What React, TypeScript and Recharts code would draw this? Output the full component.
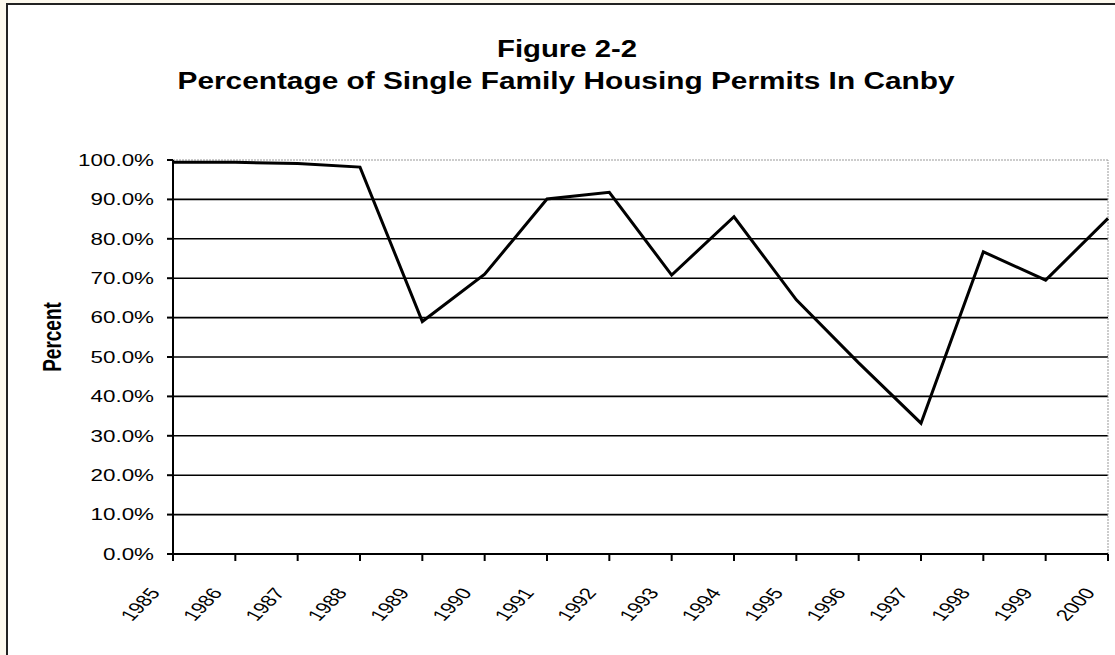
import React from 'react';
import { LineChart, Line, XAxis, YAxis, CartesianGrid, ReferenceLine } from 'recharts';

const years = ['1985', '1986', '1987', '1988', '1989', '1990', '1991', '1992', '1993', '1994', '1995', '1996', '1997', '1998', '1999', '2000'];
const singleFamilyPercent = [99.4, 99.4, 99.1, 98.2, 59.0, 71.0, 90.1, 91.8, 70.8, 85.6, 64.5, 48.5, 33.2, 76.7, 69.5, 85.2];
const yTicks = [0, 10, 20, 30, 40, 50, 60, 70, 80, 90, 100];
const gridValues = [10, 20, 30, 40, 50, 60, 70, 80, 90];
const titleLine1 = 'Figure 2-2';
const titleLine2 = 'Percentage of Single Family Housing Permits In Canby';
const yAxisTitle = 'Percent';

const data = years.map((year, i) => ({ year, pct: singleFamilyPercent[i] }));

const W = 1115;
const H = 655;
const FONT = '"Liberation Sans", Arial, sans-serif';
const SX = 1.4;

const YTick = (props: any) => {
  const { x, y, payload } = props;
  return (
    <text
      x={0}
      y={0}
      dy="0.36em"
      transform={`translate(${x},${y}) scale(${SX},1)`}
      textAnchor="end"
      fontFamily={FONT}
      fontSize={16}
      fill="#000"
    >
      {`${Number(payload.value).toFixed(1)}%`}
    </text>
  );
};

const XTick = (props: any) => {
  const { x, y, payload } = props;
  return (
    <text
      x={0}
      y={0}
      transform={`translate(${x - 12},${y + 30}) scale(${SX},1) rotate(-54.5)`}
      textAnchor="end"
      fontFamily={FONT}
      fontSize={16}
      fill="#000"
    >
      {payload.value}
    </text>
  );
};

export default function App() {
  return (
    <div style={{ position: 'absolute', left: 0, top: 0, width: W, height: H, background: '#fdf9ee', overflow: 'hidden' }}>
      <div
        style={{
          position: 'absolute',
          left: 6,
          top: 3,
          width: W - 6,
          height: H - 3,
          background: '#fff',
          borderLeft: '2px solid #222',
          borderTop: '2px solid #222',
          boxSizing: 'border-box',
        }}
      />
      <div style={{ position: 'absolute', left: 0, top: 0 }}>
        <LineChart
          width={W}
          height={H}
          data={data}
          margin={{ top: 160, right: 7, left: 73, bottom: 21 }}
        >
          <CartesianGrid horizontal vertical={false} horizontalValues={gridValues} stroke="#000" strokeWidth={1.6} />
          <ReferenceLine y={100} stroke="#999" strokeWidth={1} strokeDasharray="2 1" ifOverflow="visible" />
          <ReferenceLine x="2000" stroke="#999" strokeWidth={1} strokeDasharray="2 1" ifOverflow="visible" />
          <XAxis
            dataKey="year"
            height={80}
            interval={0}
            tickSize={7}
            tickMargin={2}
            axisLine={{ stroke: '#000', strokeWidth: 2 }}
            tickLine={{ stroke: '#000', strokeWidth: 2 }}
            tick={<XTick />}
          />
          <YAxis
            width={100}
            domain={[0, 100]}
            ticks={yTicks}
            interval={0}
            tickSize={6}
            tickMargin={13}
            axisLine={{ stroke: '#000', strokeWidth: 2 }}
            tickLine={{ stroke: '#000', strokeWidth: 2 }}
            tick={<YTick />}
          />
          <Line
            type="linear"
            dataKey="pct"
            stroke="#000"
            strokeWidth={3}
            dot={false}
            activeDot={false}
            isAnimationActive={false}
          />
        </LineChart>
      </div>
      <svg width={W} height={H} style={{ position: 'absolute', left: 0, top: 0, pointerEvents: 'none' }}>
        <text x={567} y={57} textAnchor="middle" fontFamily={FONT} fontWeight="bold" fontSize={23} textLength={140} lengthAdjust="spacingAndGlyphs" fill="#000">
          {titleLine1}
        </text>
        <text x={566} y={89} textAnchor="middle" fontFamily={FONT} fontWeight="bold" fontSize={23} textLength={777} lengthAdjust="spacingAndGlyphs" fill="#000">
          {titleLine2}
        </text>
        <text x={0} y={0} transform={`translate(61,337) scale(${SX},1) rotate(-90)`} textAnchor="middle" fontFamily={FONT} fontWeight="bold" fontSize={19} fill="#000">
          {yAxisTitle}
        </text>
      </svg>
    </div>
  );
}
